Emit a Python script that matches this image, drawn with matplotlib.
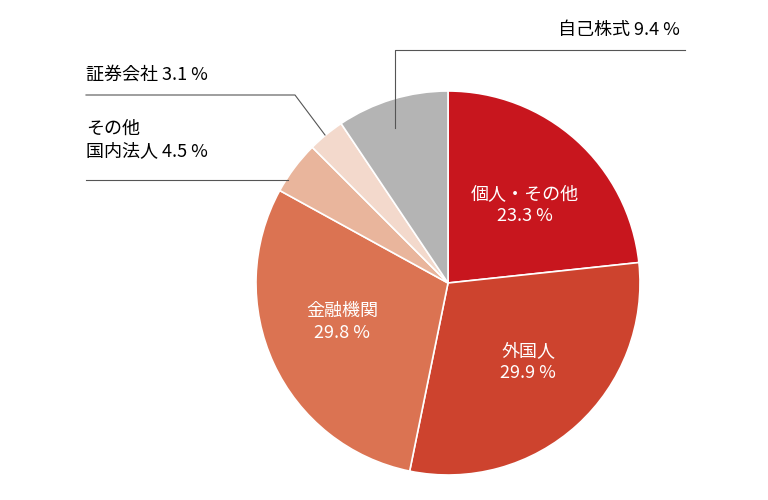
import matplotlib
matplotlib.use("Agg")
import matplotlib.pyplot as plt

plt.rcParams["font.family"] = "Noto Sans CJK JP"

labels = ["個人・その他", "外国人", "金融機関", "その他\n国内法人", "証券会社", "自己株式"]
values = [23.3, 29.9, 29.8, 4.5, 3.1, 9.4]
colors = ["#c8161e", "#cd432e", "#db7352", "#e9b59c", "#f3d9cc", "#b4b4b4"]

W, H = 768, 500
fig = plt.figure(figsize=(W / 100, H / 100), dpi=100)
ax = fig.add_axes([0, 0, 1, 1])
ax.set_xlim(0, W)
ax.set_ylim(0, H)
ax.set_aspect("equal")
ax.axis("off")

cx, cy, r = 448, H - 283, 192
ax.pie(values, colors=colors, startangle=90, counterclock=False,
       center=(cx, cy), radius=r, frame=True,
       wedgeprops=dict(edgecolor="white", linewidth=1.2))
ax.set_xlim(0, W)
ax.set_ylim(0, H)
ax.axis("off")

fs = 13
# inside labels
ax.text(525, H - 205, f"{labels[0]}\n{values[0]} %", color="white", fontsize=fs,
        ha="center", va="center", linespacing=1.3)
ax.text(528, H - 362, f"{labels[1]}\n{values[1]} %", color="white", fontsize=fs,
        ha="center", va="center", linespacing=1.3)
ax.text(342, H - 322, f"{labels[2]}\n{values[2]} %", color="white", fontsize=fs,
        ha="center", va="center", linespacing=1.3)

# outside labels with leader lines
lc = "#555555"
ax.text(680, H - 30, f"{labels[5]} {values[5]} %", fontsize=fs, ha="right", va="center")
ax.plot([395, 395, 685], [H - 128, H - 50, H - 50], color=lc, lw=0.8)

ax.text(86, H - 75, f"{labels[4]} {values[4]} %", fontsize=fs, ha="left", va="center")
ax.plot([86, 295, 325], [H - 95, H - 95, H - 135], color=lc, lw=0.8)

ax.text(86, H - 140, "その他\n国内法人 " + f"{values[3]} %", fontsize=fs,
        ha="left", va="center", linespacing=1.3)
ax.plot([86, 288], [H - 180, H - 180], color=lc, lw=0.8)

fig.savefig("out.png", dpi=100)
